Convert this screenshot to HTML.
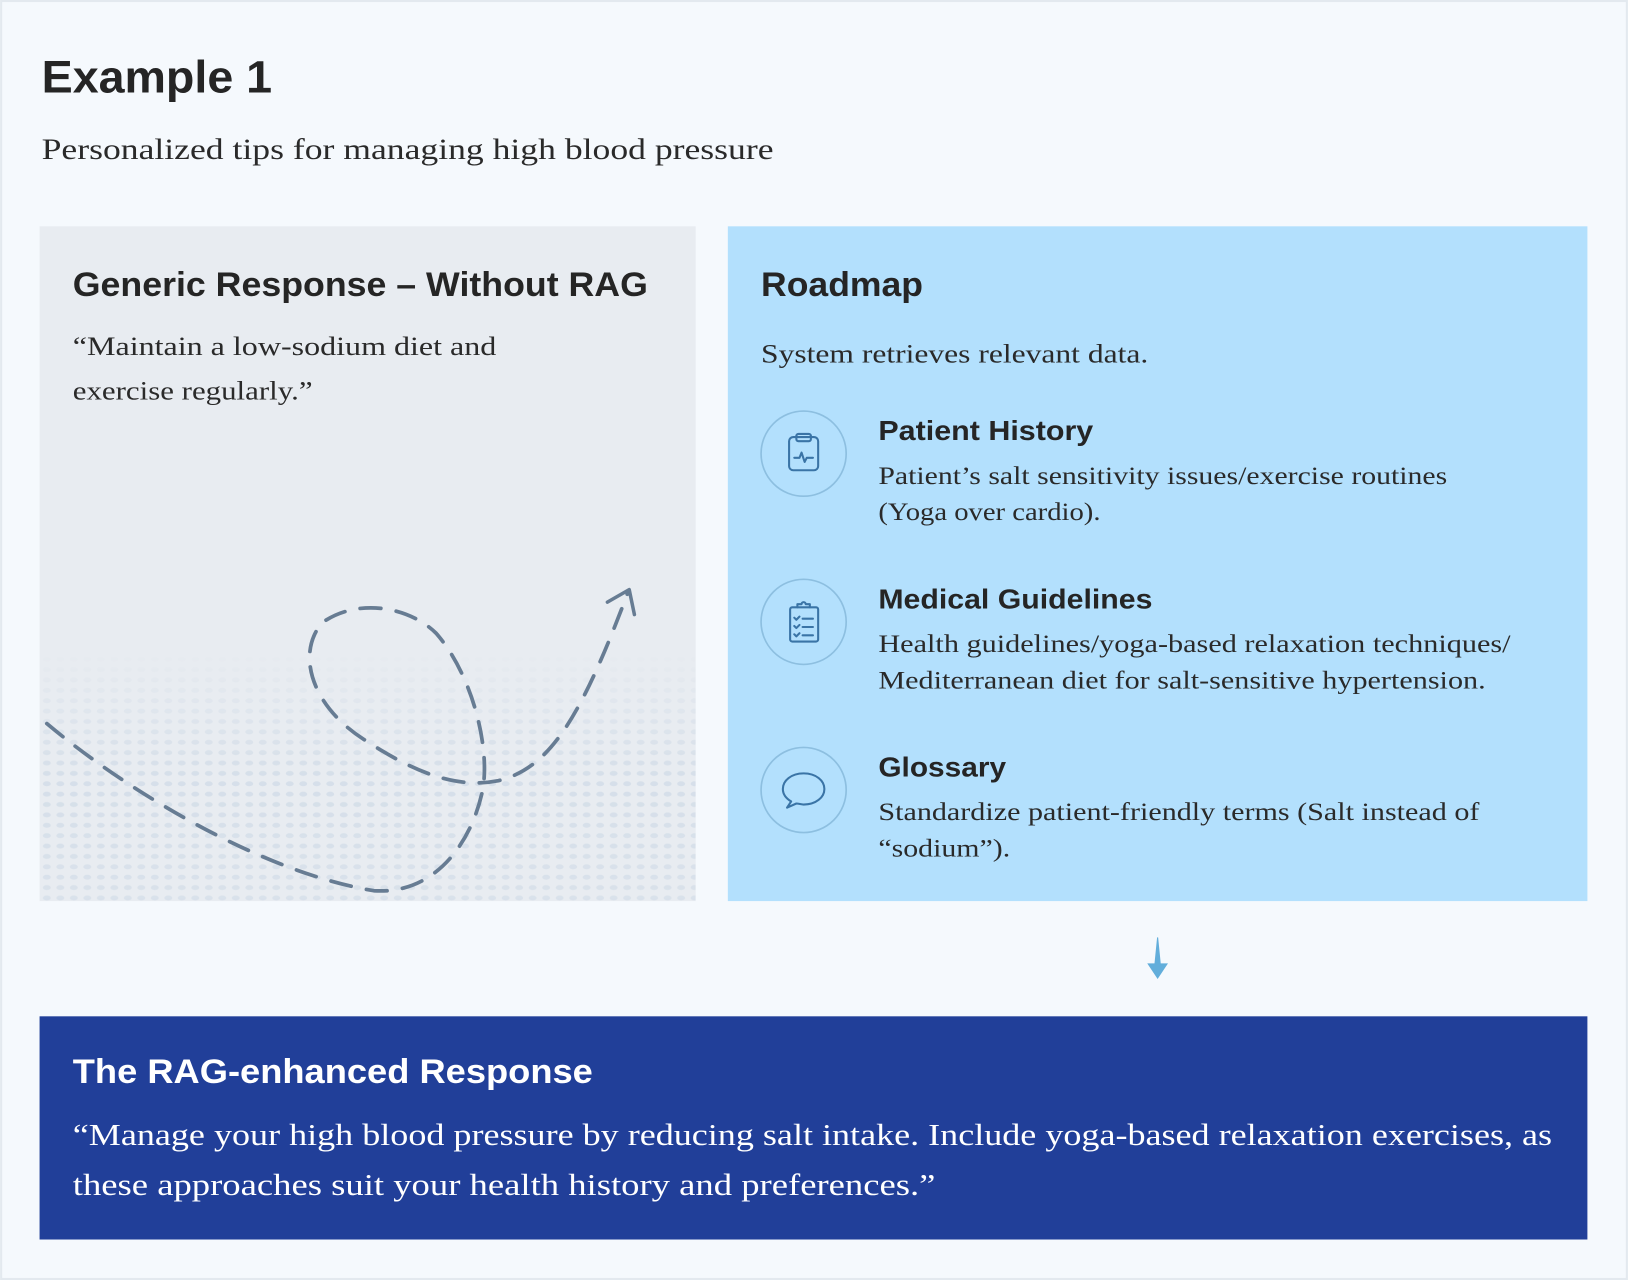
<!DOCTYPE html>
<html><head><meta charset="utf-8"><style>
html,body{margin:0;padding:0;width:1628px;height:1280px;overflow:hidden;background:#f5f9fd}
svg{display:block}
.s{font-family:"Liberation Sans",sans-serif;font-weight:bold;fill:#252525}
.r{font-family:"Liberation Serif",serif;fill:#2a2a2a}
</style></head><body>
<svg width="1628" height="1280" viewBox="0 0 1568 1233" xmlns="http://www.w3.org/2000/svg">
<defs>
<pattern id="dots" width="13" height="10" patternUnits="userSpaceOnUse"><ellipse cx="6" cy="5" rx="3.8" ry="2.4" fill="#d3dde8"/></pattern>
<linearGradient id="fade" x1="0" y1="0" x2="0" y2="1"><stop offset="0" stop-color="#fff" stop-opacity="0"/><stop offset="0.5" stop-color="#fff" stop-opacity="0.9"/><stop offset="1" stop-color="#fff" stop-opacity="0.7"/></linearGradient>
<mask id="m"><rect x="38" y="630" width="632" height="238" fill="url(#fade)"/></mask>
</defs>
<rect x="0" y="0" width="1568" height="1233" fill="#f5f9fd"/>
<rect x="1" y="1" width="1566" height="1231" fill="none" stroke="#e3e9ef" stroke-width="2"/>
<text class="s" x="40" y="89" font-size="44" textLength="222" lengthAdjust="spacingAndGlyphs">Example 1</text>
<text class="r" x="40" y="153" font-size="29" textLength="705" lengthAdjust="spacingAndGlyphs">Personalized tips for managing high blood pressure</text>

<rect x="38" y="218" width="632" height="650" fill="#e8ecf1"/>
<rect x="38" y="630" width="632" height="238" fill="url(#dots)" mask="url(#m)"/>
<text class="s" x="70" y="285" font-size="33" textLength="554" lengthAdjust="spacingAndGlyphs">Generic Response – Without RAG</text>
<text class="r" x="70" y="342" font-size="25" textLength="408" lengthAdjust="spacingAndGlyphs">“Maintain a low-sodium diet and</text>
<text class="r" x="70" y="385" font-size="25" textLength="231" lengthAdjust="spacingAndGlyphs">exercise regularly.”</text>
<path d="M45 697 C120 760 250 840 360 858 C420 862 455 810 465 760 C472 720 455 650 420 610 C395 585 345 575 310 600 C285 630 300 680 350 712 C400 745 440 760 480 752 C530 740 560 690 605 570" fill="none" stroke="#677c93" stroke-width="3.6" stroke-dasharray="20 15" stroke-linecap="round"/>
<path d="M585 580 L606 568 L611 592" fill="none" stroke="#677c93" stroke-width="3.4" stroke-linecap="round" stroke-linejoin="round"/>

<rect x="701" y="218" width="828" height="650" fill="#b3e0fd"/>
<text class="s" x="733" y="285" font-size="33" textLength="156" lengthAdjust="spacingAndGlyphs">Roadmap</text>
<text class="r" x="733" y="349" font-size="25" textLength="373" lengthAdjust="spacingAndGlyphs">System retrieves relevant data.</text>

<g fill="none" stroke="#8dbfe0" stroke-width="1.6">
<circle cx="774" cy="437" r="41"/><circle cx="774" cy="599" r="41"/><circle cx="774" cy="761" r="41"/>
</g>
<g fill="none" stroke="#3a74a6" stroke-width="2" stroke-linecap="round" stroke-linejoin="round">
<rect x="760" y="421" width="28" height="32" rx="4"/><rect x="767" y="418" width="14" height="7" rx="2"/>
<path d="M765 441 h5 l2 -5 l3 9 l2 -4 h6"/>
<rect x="761" y="585" width="27" height="33" rx="2"/><path d="M768 585 v-3 h4 a2 2 0 0 1 4 0 h4 v3"/>
<path d="M765 595 l2 2 l3 -3 M773 596 h10 M765 603 l2 2 l3 -3 M773 604 h10 M765 611 l2 2 l3 -3 M773 612 h10"/>
<path d="M774 745 c-12 0 -20 7 -20 15 c0 5 3 9 8 12 l-4 6 l9 -4 c2 0 5 1 7 1 c12 0 20 -7 20 -15 c0 -8 -8 -15 -20 -15 z"/>
</g>
<text class="s" x="846" y="424" font-size="27" textLength="207" lengthAdjust="spacingAndGlyphs">Patient History</text>
<text class="r" x="846" y="466" font-size="24" textLength="548" lengthAdjust="spacingAndGlyphs">Patient’s salt sensitivity issues/exercise routines</text>
<text class="r" x="846" y="501" font-size="24" textLength="214" lengthAdjust="spacingAndGlyphs">(Yoga over cardio).</text>
<text class="s" x="846" y="586" font-size="27" textLength="264" lengthAdjust="spacingAndGlyphs">Medical Guidelines</text>
<text class="r" x="846" y="628" font-size="24" textLength="609" lengthAdjust="spacingAndGlyphs">Health guidelines/yoga-based relaxation techniques/</text>
<text class="r" x="846" y="663" font-size="24" textLength="585" lengthAdjust="spacingAndGlyphs">Mediterranean diet for salt-sensitive hypertension.</text>
<text class="s" x="846" y="748" font-size="27" textLength="123" lengthAdjust="spacingAndGlyphs">Glossary</text>
<text class="r" x="846" y="790" font-size="24" textLength="579" lengthAdjust="spacingAndGlyphs">Standardize patient-friendly terms (Salt instead of</text>
<text class="r" x="846" y="825" font-size="24" textLength="127" lengthAdjust="spacingAndGlyphs">“sodium”).</text>

<path d="M1114.5 903 L1115.5 903 L1118 928 L1125 928 L1115 943 L1105 928 L1112 928 Z" fill="#62aedb"/>

<rect x="38" y="979" width="1491" height="215" fill="#213f99"/>
<text class="s" x="70" y="1043" font-size="33" style="fill:#fff" textLength="501" lengthAdjust="spacingAndGlyphs">The RAG-enhanced Response</text>
<text class="r" x="70" y="1103" font-size="30" style="fill:#fff" textLength="1425" lengthAdjust="spacingAndGlyphs">“Manage your high blood pressure by reducing salt intake. Include yoga-based relaxation exercises, as</text>
<text class="r" x="70" y="1151" font-size="30" style="fill:#fff" textLength="831" lengthAdjust="spacingAndGlyphs">these approaches suit your health history and preferences.”</text>
</svg>
</body></html>
